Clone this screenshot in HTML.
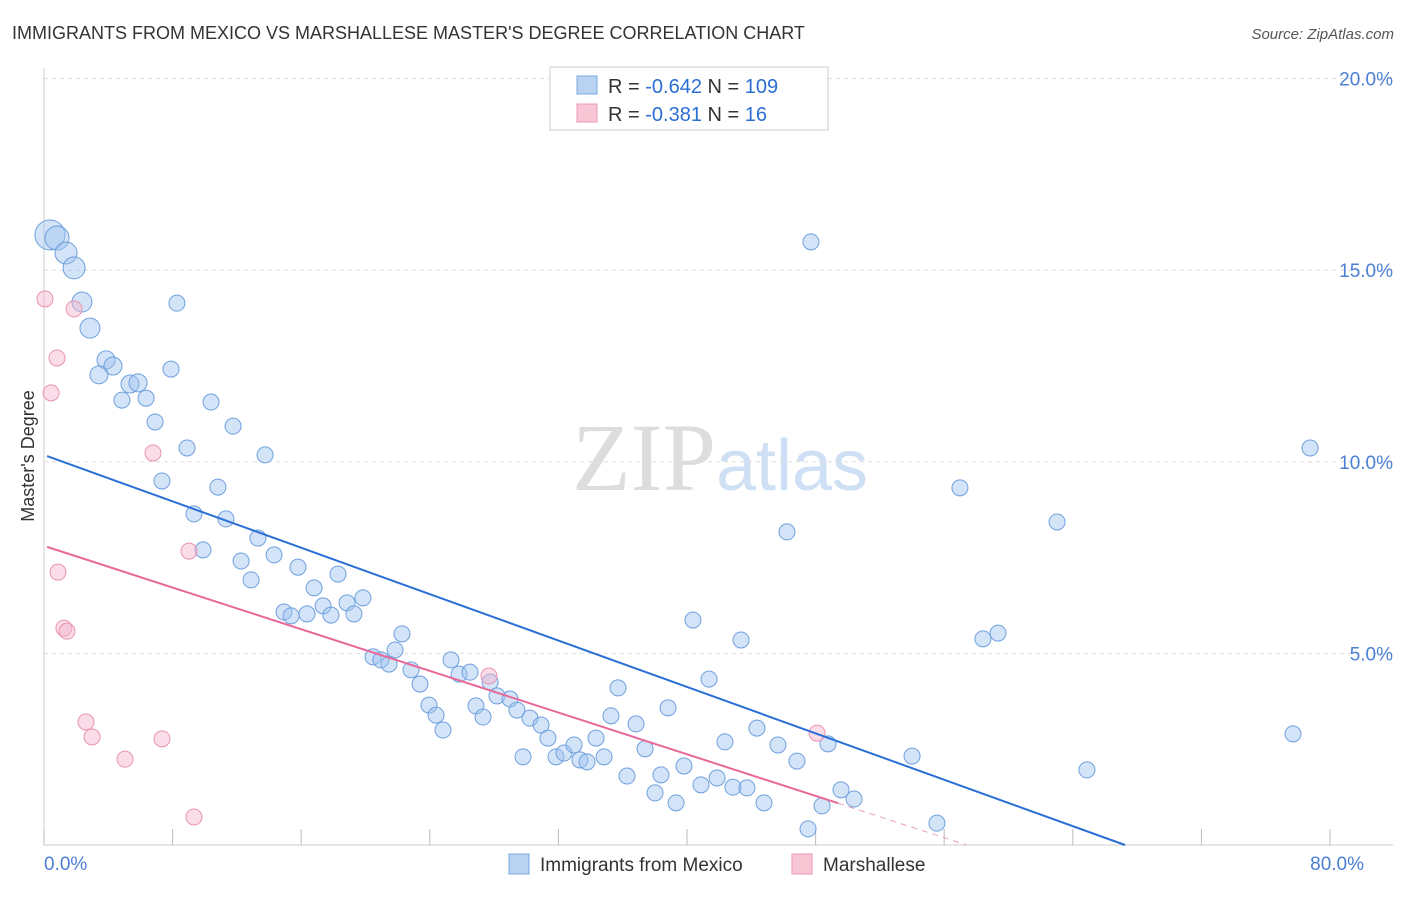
<!DOCTYPE html>
<html><head><meta charset="utf-8"><style>
body{margin:0;background:#fff;font-family:"Liberation Sans",sans-serif}
</style></head><body>
<svg width="1406" height="892" xmlns="http://www.w3.org/2000/svg" id="chart">
<text x="12" y="39" font-size="18" fill="#333">IMMIGRANTS FROM MEXICO VS MARSHALLESE MASTER'S DEGREE CORRELATION CHART</text>
<text x="1394" y="39" font-size="15" fill="#555" text-anchor="end" font-style="italic">Source: ZipAtlas.com</text>
<text x="720" y="490" font-size="96" text-anchor="middle" fill="#ddd" font-family="Liberation Serif,serif">ZIP<tspan fill="#cfe0f5" font-family="Liberation Sans,sans-serif" font-size="72">atlas</tspan></text>
<text transform="translate(34,456) rotate(-90)" font-size="18" fill="#333" text-anchor="middle">Master's Degree</text>
<g id="grid"></g><g id="marks"></g>
<g>
<rect x="550" y="67" width="278" height="63" fill="#fff" stroke="#ccc"/>
<rect x="577" y="76" width="20" height="18" fill="#b8d2f2" stroke="#7aaae0"/>
<rect x="577" y="104" width="20" height="18" fill="#f9c6d6" stroke="#ec9ab6"/>
<text x="608" y="93" font-size="20" fill="#333">R = <tspan fill="#2b6fd6">-0.642</tspan>   N = <tspan fill="#2b6fd6">109</tspan></text>
<text x="608" y="121" font-size="20" fill="#333">R =  <tspan fill="#2b6fd6">-0.381</tspan>   N =   <tspan fill="#2b6fd6">16</tspan></text>
</g>
<g>
<rect x="509" y="854" width="20" height="20" fill="#b8d2f2" stroke="#7aaae0"/>
<text x="540" y="871" font-size="19" fill="#333">Immigrants from Mexico</text>
<rect x="792" y="854" width="20" height="20" fill="#f9c6d6" stroke="#ec9ab6"/>
<text x="823" y="871" font-size="19" fill="#333">Marshallese</text>
</g>
</svg>
<script>
const xTicks=[0,8,16,24,32,40,48,56,64,72,80];
const yTicks=[5,10,15,20];
const blueX=[0.37,0.81,1.37,1.87,2.36,2.86,3.86,4.29,3.42,5.35,5.85,4.85,6.35,7.90,8.27,6.91,10.39,11.76,8.90,13.75,7.34,10.82,9.33,11.32,9.89,13.31,12.26,12.88,14.31,15.80,16.80,18.29,14.93,15.37,16.36,17.36,17.85,18.85,19.28,19.84,22.27,21.84,20.47,20.96,21.46,22.83,23.39,25.32,25.82,26.50,27.75,28.18,28.99,23.95,24.39,24.82,26.87,27.31,29.42,30.23,30.92,31.35,29.80,31.85,32.35,32.97,33.34,33.78,34.34,34.84,35.27,35.71,36.27,36.83,37.39,38.01,38.38,38.82,39.32,39.81,40.37,40.87,41.37,41.87,42.36,42.86,43.36,43.73,44.35,44.79,45.66,46.22,46.84,47.53,47.71,48.40,48.77,49.58,50.39,54.00,55.55,56.98,58.41,59.35,63.02,64.88,77.70,78.76];
const blueY=[15.92,15.84,15.45,15.06,14.17,13.49,12.66,12.50,12.27,12.03,12.06,11.61,11.66,12.42,14.14,11.04,11.56,10.93,10.36,10.18,9.50,9.34,8.64,8.51,7.70,8.01,7.41,6.92,7.57,7.25,6.71,7.07,6.08,5.98,6.03,6.24,6.00,6.32,6.03,6.45,5.51,5.09,4.91,4.83,4.72,4.57,4.20,4.83,4.46,4.51,4.25,3.89,3.81,3.65,3.39,3.00,3.63,3.34,3.52,3.31,3.13,2.79,2.30,2.30,2.40,2.61,2.22,2.17,2.79,2.30,3.37,4.10,1.80,3.16,2.51,1.36,1.83,3.58,1.10,2.06,5.87,1.57,4.33,1.75,2.69,1.51,5.35,1.49,3.05,1.10,2.61,8.17,2.19,0.42,15.74,1.02,2.64,1.44,1.20,2.32,0.57,9.32,5.38,5.53,8.43,1.96,2.90,10.36];
const blueR=[15,12,11,11,10,10,9,9,9,9,9];
const pinkX=[0.06,0.44,0.81,1.87,0.87,1.24,1.43,2.61,2.99,5.04,6.78,7.34,9.02,9.33,27.68,48.09];
const pinkY=[14.25,11.80,12.71,13.99,7.12,5.66,5.58,3.21,2.82,2.24,10.23,2.77,7.67,0.73,4.41,2.92];
const blueTrend=[[0.19,10.15],[67.25,0]];
const pinkTrend=[[0.19,7.78],[49.4,1.09],[57.4,0]];
const X=v=>44+v*16.075, Y=v=>845-v*38.32;
const NS='http://www.w3.org/2000/svg';
function mk(t,a,p){const e=document.createElementNS(NS,t);for(const k in a)e.setAttribute(k,a[k]);p.appendChild(e);return e;}
const g=document.getElementById('grid'), m=document.getElementById('marks');
yTicks.forEach(v=>{
 const l=mk('line',{x1:44,x2:1393,y1:Y(v),y2:Y(v),stroke:'#ddd','stroke-dasharray':'4 4'},g);
 
 
 const t=mk('text',{x:1393,y:Y(v)+7,'font-size':19,fill:'#4a7fd4','text-anchor':'end'},g);t.textContent=v.toFixed(1)+'%';
 
 
});
const ax=mk('line',{x1:44,x2:1393,y1:845,y2:845,stroke:'#ccc'},g);


const ay=mk('line',{x1:44,x2:44,y1:68,y2:845,stroke:'#ccc'},g);


xTicks.forEach(v=>{const l=mk('line',{x1:X(v),x2:X(v),y1:829,y2:845,stroke:'#bbb'},g);
 
 });
[[0,'start'],[80,'end']].forEach(([v,a])=>{const t=mk('text',{x:X(v)+(v?34:0),y:870,'font-size':19,fill:'#4a7fd4','text-anchor':a},g);t.textContent=v.toFixed(1)+'%';
 
 });
blueX.forEach((v,i)=>{const c=mk('circle',{cx:X(v),cy:Y(blueY[i]),r:blueR[i]||8,fill:'rgba(160,195,240,0.45)',stroke:'#6fa0de','stroke-width':1},m);
 
 });
pinkX.forEach((v,i)=>{const c=mk('circle',{cx:X(v),cy:Y(pinkY[i]),r:8,fill:'rgba(245,180,205,0.45)',stroke:'#e893b2','stroke-width':1},m);
 
 });
const bl=mk('line',{x1:X(blueTrend[0][0]),y1:Y(blueTrend[0][1]),x2:X(blueTrend[1][0]),y2:Y(blueTrend[1][1]),stroke:'#2b6fd6','stroke-width':2},m);


const pl=mk('line',{x1:X(pinkTrend[0][0]),y1:Y(pinkTrend[0][1]),x2:X(pinkTrend[1][0]),y2:Y(pinkTrend[1][1]),stroke:'#e8689a','stroke-width':2},m);


const pd=mk('line',{x1:X(pinkTrend[1][0]),y1:Y(pinkTrend[1][1]),x2:X(pinkTrend[2][0]),y2:Y(pinkTrend[2][1]),stroke:'#e8a0b8','stroke-width':1,'stroke-dasharray':'6 5'},m);


</script>
</body></html>
